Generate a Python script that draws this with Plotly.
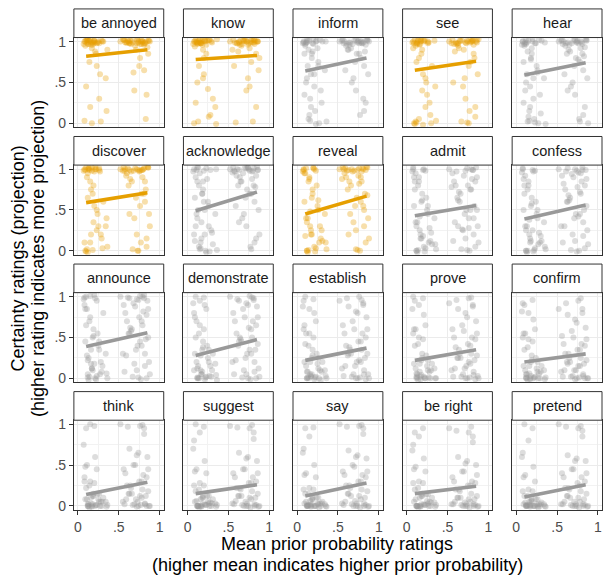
import plotly.graph_objects as go

W, H = 603, 584

PREDICATES = ["be annoyed", "know", "inform", "see", "hear",
              "discover", "acknowledge", "reveal", "admit", "confess",
              "announce", "demonstrate", "establish", "prove", "confirm",
              "think", "suggest", "say", "be right", "pretend"]
FACTIVE = ["be annoyed", "know", "see", "discover", "reveal"]

X_TICKS = [0, 0.5, 1]
X_TICK_LABELS = ["0", ".5", "1"]

# mean prior probability of each rated item (jittered positions): 45 low-prior, then 45 high-prior
X_LOW_ITEMS = [0.08, 0.10, 0.12, 0.14, 0.09, 0.11, 0.13, 0.15, 0.17, 0.19,
               0.21, 0.23, 0.16, 0.18, 0.20, 0.22, 0.25, 0.27, 0.10, 0.12,
               0.14, 0.24, 0.26, 0.29, 0.08, 0.17, 0.19, 0.34, 0.36, 0.31,
               0.07, 0.11, 0.13, 0.15, 0.18, 0.20, 0.23, 0.26, 0.28, 0.09,
               0.12, 0.16, 0.21, 0.35, 0.30]
X_HIGH_ITEMS = [0.52, 0.56, 0.60, 0.63, 0.66, 0.70, 0.73, 0.76, 0.79, 0.82,
                0.85, 0.87, 0.58, 0.62, 0.68, 0.72, 0.75, 0.78, 0.81, 0.84,
                0.86, 0.64, 0.69, 0.74, 0.77, 0.80, 0.83, 0.55, 0.71, 0.88,
                0.61, 0.65, 0.67, 0.72, 0.76, 0.79, 0.82, 0.84, 0.86, 0.59,
                0.74, 0.78, 0.81, 0.57, 0.63]
X_ITEMS = X_LOW_ITEMS + X_HIGH_ITEMS

# certainty ratings (x100, jittered), item order as X_ITEMS
Y_BE_ANNOYED = [100, 102, 97, 101, 95, 99, 97, 103, 92, 100, 88, 98, 99, 96, 101, 85, 100, 60, 45, 102,
                75, 99, 30, 101, 3, 0, 98, 55, 90, 100, 97, 102, 100, 20, 99, 101, 70, 98, 2, 100,
                103, 96, 99, 15, 100,
                100, 102, 99, 98, 101, 95, 103, 97, 100, 99, 93, 101, 99, 100, 62, 98, 70, 102, 96, 100,
                85, 101, 40, 99, 100, 98, 5, 103, 90, 100, 101, 97, 99, 102, 80, 100, 98, 35, 101, 99,
                100, 97, 65, 102, 98]
Y_KNOW = [100, 102, 97, 101, 94, 99, 98, 103, 100, 90, 101, 85, 98, 96, 60, 100, 42, 102, 25, 99,
          70, 101, 8, 100, 0, 98, 55, 20, 103, 30, 97, 100, 2, 99, 101, 80, 96, 102, 10, 100,
          50, 98, 101, -1, 99,
          100, 102, 98, 99, 95, 101, 100, 92, 103, 97, 100, 65, 99, 88, 101, 40, 98, 75, 102, 20,
          100, 96, 101, 55, 99, 2, 100, 90, 103, 80, 98, 101, 97, 100, 45, 99, 102, 85, 100, 1,
          96, 101, 99, 70, 100]
Y_INFORM = [100, 95, 102, 90, 85, 99, 70, 101, 60, 98, 45, 100, 30, 80, 103, 15, 92, 0, 97, 55,
            5, 101, 75, 40, 99, 20, 88, 65, 2, 100, 98, 50, 101, 10, 85, 97, -1, 70, 102, 35,
            99, 3, 60, 100, 25,
            100, 102, 95, 99, 92, 101, 85, 98, 98, 70, 103, 60, 100, 90, 97, 40, 101, 80, 99, 25,
            102, 96, 55, 100, 10, 98, 88, 101, 75, 100, 97, 99, 50, 102, 85, 100, 15, 96, 101, 65,
            99, 100, 30, 98, 90]
Y_SEE = [100, 102, 98, 101, 0, 95, 99, 5, 103, 90, 100, 20, 97, 85, 60, 101, 35, 99, -1, 75,
         102, 50, 98, 10, 92, 100, 40, 101, 3, 70, 99, 2, 97, 80, 101, -2, 55, 100, 25, 98,
         1, 96, 102, 45, 0,
         100, 102, 99, 95, 101, 90, 98, 0, 103, 85, 100, 60, 97, 98, 101, 30, 100, 75, 102, 8,
         99, 92, 45, 101, 15, 100, 80, 98, 55, 103, 97, 101, 2, 99, 70, 100, 96, 20, 102, 88,
         1, 99, 101, 50, 98]
Y_HEAR = [100, 95, 102, 88, 75, 99, 60, 101, 45, 92, 30, 98, 15, 80, 103, 5, 70, 0, 97, 50,
          2, 98, 65, 35, 100, 20, 85, 55, -1, 101, 96, 40, 99, 8, 78, 100, 1, 62, 102, 25,
          97, 3, 55, 99, 12,
          100, 102, 95, 99, 88, 101, 80, 98, 92, 65, 103, 55, 100, 85, 98, 35, 101, 75, 97, 20,
          102, 90, 50, 100, 5, 99, 82, 101, 70, 0, 98, 96, 45, 102, 78, 100, 10, 93, 101, 60,
          99, 2, 85, 97, 40]
Y_DISCOVER = [100, 102, 95, 99, 0, 90, 101, 10, 98, 80, 103, 25, 20, 70, 55, 100, 30, 97, -1, 65,
              101, 45, 99, 15, 10, 102, 35, 30, 5, 60, 98, 2, 100, 85, 1, 97, 50, 101, 20, 99,
              -2, 75, 100, 40, 3,
              100, 102, 95, 99, 85, 101, 0, 98, 90, 60, 103, 45, 100, 80, 98, 20, 97, 70, 101, 5,
              102, 88, 40, 99, 10, 100, 75, 98, 65, 30, 101, 97, 2, 100, 55, 99, 85, 15, 102, 92,
              0, 99, 70, 98, 45]
Y_ACKNOWLEDGE = [100, 90, 102, 80, 65, 99, 50, 95, 35, 85, 20, 101, 10, 70, 98, 0, 60, -1, 30, 40,
                 5, 88, 55, 25, 20, 15, 75, 45, 1, 8, 97, 45, 102, 2, 70, 60, -2, 30, 99, 12,
                 85, 3, 50, 100, 22,
                 100, 102, 92, 99, 85, 101, 75, 98, 88, 60, 103, 50, 97, 80, 95, 30, 100, 70, 101, 15,
                 99, 90, 45, 102, 5, 98, 78, 96, 65, 20, 100, 85, 40, 101, 70, 97, 10, 92, 99, 55,
                 102, 2, 80, 98, 35]
Y_REVEAL = [100, 95, 0, 85, 60, 101, 40, 90, 20, 75, 5, 98, 30, 65, 102, -1, 55, 10, 18, 35,
            1, 80, 50, 15, 99, 25, 70, 45, 2, 12, 97, 40, -2, 88, 20, 101, 3, 62, 30, 95,
            0, 48, 100, 10, 25,
            100, 102, 90, 99, 80, 98, 65, 101, 85, 50, 103, 40, 95, 75, 97, 25, 92, 60, 100, 10,
            102, 85, 35, 99, 0, 101, 70, 88, 55, 15, 98, 45, 100, 2, 82, 97, 30, 99, 68, 101,
            1, 90, 55, 100, 20]
Y_ADMIT = [100, 85, 0, 80, 55, 95, 35, 90, 15, 70, 5, 98, 25, 60, 18, -1, 50, 10, 75, 30,
           1, 65, 45, 12, 102, 20, 62, 40, 2, 8, 97, 35, -2, 85, 15, 99, 3, 55, 28, 90,
           0, 42, 100, 8, 22,
           100, 95, 80, 30, 70, 92, 50, 28, 75, 40, 102, 30, 85, 65, 26, 15, 80, 50, 99, 5,
           90, 72, 25, 101, 0, 88, 55, 78, 45, 10, 97, 60, 2, 98, 40, 100, 20, 85, 50, 35,
           1, 75, 99, 12, 62]
Y_CONFESS = [100, 80, 0, 75, 50, 92, 30, 85, 10, 65, -1, 98, 20, 55, 25, 1, 45, 8, 70, 25,
             0, 60, 40, 10, 101, 15, 58, 35, 2, 12, 96, 30, -2, 80, 12, 99, 3, 50, 22, 88,
             0, 38, 97, 5, 18,
             100, 92, 75, 101, 65, 90, 45, 96, 70, 35, 99, 25, 82, 60, 94, 12, 78, 45, 102, 3,
             88, 68, 20, 98, 0, 85, 50, 30, 40, 8, 97, 62, 1, 100, 42, 95, 18, 80, 55, 30,
             -1, 72, 99, 10, 60]
Y_ANNOUNCE = [90, 100, 5, 70, 45, 85, 25, 101, 12, 60, 0, 95, 18, 50, 18, -1, 40, 5, 65, 22,
              2, 55, 35, 8, 99, 12, 52, 30, 0, 80, 97, 28, -2, 75, 10, 102, 3, 45, 20, 85,
              1, 35, 98, 6, 15,
              100, 90, 70, 98, 60, 88, 40, 101, 65, 30, 95, 20, 80, 55, 92, 10, 75, 40, 102, 0,
              85, 62, 18, 96, -1, 82, 48, 30, 35, 5, 99, 58, 2, 97, 45, 100, 15, 78, 50, 28,
              1, 70, 98, 8, 55]
Y_DEMONSTRATE = [80, 100, 0, 55, 30, 70, 15, 95, 5, 45, -1, 85, 10, 35, 60, 1, 25, 3, 50, 12,
                 0, 40, 20, 2, 10, 5, 38, 18, -2, 30, 92, 20, 0, 65, 8, 99, 2, 35, 15, 75,
                 1, 28, 90, 4, 10,
                 100, 80, 55, 95, 45, 75, 30, 101, 50, 20, 88, 12, 70, 40, 85, 5, 62, 30, 98, 0,
                 75, 50, 10, 90, -1, 70, 35, 20, 25, 2, 97, 48, 1, 92, 35, 99, 8, 65, 42, 22,
                 0, 60, 96, 5, 45]
Y_ESTABLISH = [60, 100, 0, 40, 20, 55, 8, 85, 2, 35, -1, 70, 5, 25, 50, 1, 18, 0, 42, 8,
               0, 30, 12, -2, 95, 3, 28, 10, 0, 20, 88, 15, 1, 55, 5, 97, 2, 25, 10, 65,
               0, 20, 80, 3, 8,
               95, 65, 40, 88, 30, 60, 20, 100, 35, 10, 75, 5, 55, 28, 70, 0, 45, 20, 90, -1,
               60, 38, 5, 80, 1, 55, 25, 12, 15, 0, 98, 35, 2, 82, 22, 96, 5, 50, 30, 15,
               0, 45, 92, 3, 30]
Y_PROVE = [55, 95, 0, 42, 18, 60, 5, 90, -1, 30, 2, 65, 8, 22, 48, 0, 15, 1, 40, 6,
           -2, 28, 10, 0, 100, 2, 25, 12, 0, 18, 85, 12, 1, 50, 4, 98, 0, 22, 8, 60,
           2, 18, 78, 0, 10,
           92, 60, 38, 85, 25, 58, 15, 98, 30, 8, 70, 3, 50, 25, 65, 0, 42, 18, 88, -1,
           55, 35, 5, 75, 1, 50, 22, 10, 12, 0, 96, 30, 2, 80, 20, 99, 4, 48, 28, 12,
           0, 40, 90, 2, 25]
Y_CONFIRM = [50, 90, 0, 38, 15, 55, 5, 80, -1, 28, 0, 60, 6, 20, 45, 1, 12, 0, 35, 5,
             -2, 25, 8, 0, 92, 0, 22, 10, 1, 15, 82, 10, 0, 48, 3, 96, 2, 20, 6, 55,
             1, 15, 72, -1, 8,
             85, 52, 30, 78, 20, 50, 10, 95, 25, 5, 62, 0, 42, 20, 58, -1, 35, 15, 80, 0,
             48, 30, 3, 68, 1, 42, 18, 8, 10, 0, 92, 25, 2, 72, 15, 98, 3, 40, 22, 10,
             0, 35, 85, 2, 18]
Y_THINK = [30, 95, 0, 25, 8, 50, 2, 100, -1, 15, 0, 45, 3, 12, 28, 1, 8, 0, 22, 2,
           -2, 15, 5, 0, 35, 0, 12, 5, 1, 10, 75, 8, 0, 30, 2, 98, 1, 15, 5, 48,
           0, 10, 60, -1, 5,
           100, 45, 25, 70, 15, 50, 5, 98, 20, 2, 60, 0, 40, 15, 50, -1, 30, 10, 95, 0,
           45, 25, 2, 65, 1, 38, 12, 5, 8, 0, 97, 22, 1, 62, 12, 99, 3, 35, 18, 8,
           0, 30, 88, 2, 15]
Y_SUGGEST = [25, 100, 0, 20, 5, 45, 0, 90, -1, 12, 2, 40, 0, 10, 25, 1, 5, 0, 18, 0,
             -2, 12, 3, 0, 80, 0, 10, 3, 1, 8, 70, 6, 0, 28, 2, 97, 1, 12, 4, 42,
             0, 8, 55, -1, 3,
             98, 40, 22, 65, 12, 45, 3, 95, 18, 0, 55, -1, 35, 12, 45, 0, 28, 8, 90, 1,
             40, 22, 0, 60, -2, 35, 10, 3, 5, 0, 96, 20, 1, 58, 10, 99, 2, 30, 15, 6,
             0, 28, 82, 2, 12]
Y_SAY = [20, 95, 0, 15, 3, 40, 0, 85, -1, 10, 0, 35, 1, 8, 20, 0, 3, -2, 15, 0,
         1, 10, 2, 0, 70, 0, 8, 2, -1, 5, 65, 5, 0, 22, 2, 96, 0, 10, 3, 38,
         1, 6, 50, 0, 3,
         100, 42, 25, 68, 12, 48, 3, 98, 20, 0, 58, -1, 38, 15, 50, 0, 30, 8, 95, 1,
         42, 25, 0, 62, -2, 38, 10, 3, 6, 0, 97, 22, 2, 60, 12, 99, 3, 35, 18, 5,
         0, 30, 88, 1, 15]
Y_BE_RIGHT = [28, 90, 0, 22, 5, 48, 0, 85, -1, 15, 2, 42, 0, 12, 28, 1, 6, 0, 20, 0,
              -2, 14, 3, 0, 75, 0, 12, 4, 1, 10, 68, 8, 0, 30, 2, 95, 1, 14, 5, 45,
              0, 10, 58, -1, 4,
              95, 35, 20, 60, 10, 42, 2, 90, 15, 0, 50, -1, 30, 10, 42, 0, 25, 5, 85, 1,
              38, 20, 0, 55, -2, 30, 8, 2, 4, 0, 92, 18, 1, 52, 8, 97, 2, 28, 12, 5,
              0, 25, 78, 2, 10]
Y_PRETEND = [18, 100, 0, 12, 2, 38, 0, 80, -1, 8, 0, 30, 1, 6, 18, 0, 2, -2, 12, 0,
             1, 8, 0, 0, 65, 0, 6, 2, -1, 4, 60, 4, 0, 20, 1, 95, 0, 8, 2, 35,
             1, 5, 48, 0, 2,
             100, 40, 22, 62, 10, 45, 2, 95, 18, 0, 55, -1, 35, 12, 45, 0, 28, 5, 92, 1,
             40, 22, 0, 58, -2, 35, 8, 2, 5, 0, 97, 20, 1, 55, 10, 98, 2, 30, 15, 5,
             0, 25, 85, 2, 12]

RATINGS = [Y_BE_ANNOYED, Y_KNOW, Y_INFORM, Y_SEE, Y_HEAR,
           Y_DISCOVER, Y_ACKNOWLEDGE, Y_REVEAL, Y_ADMIT, Y_CONFESS,
           Y_ANNOUNCE, Y_DEMONSTRATE, Y_ESTABLISH, Y_PROVE, Y_CONFIRM,
           Y_THINK, Y_SUGGEST, Y_SAY, Y_BE_RIGHT, Y_PRETEND]

# linear fit: value at lowest and highest prior mean
LINE_X = [0.10, 0.85]
LINE_AT_LOW = [0.82, 0.78, 0.64, 0.65, 0.59,
               0.59, 0.49, 0.45, 0.43, 0.39,
               0.39, 0.28, 0.22, 0.22, 0.20,
               0.14, 0.15, 0.12, 0.15, 0.11]
LINE_AT_HIGH = [0.90, 0.83, 0.80, 0.76, 0.74,
                0.71, 0.72, 0.67, 0.555, 0.56,
                0.56, 0.475, 0.37, 0.35, 0.30,
                0.29, 0.26, 0.28, 0.24, 0.26]

ORANGE = "#E69F00"
GREY = "#999999"
FONT = "Liberation Sans, Arial, Helvetica, sans-serif"

# layout geometry (pixels)
LEFT0, COL_STEP, PANEL_W = 74, 109.75, 90
TOP0, ROW_STEP, STRIP_H, PANEL_H = 5, 129.33, 29, 91


def px_x(v):
    return v / W


def px_y(v):
    return 1 - v / H


fig = go.Figure()
shapes = []
annotations = []
layout_axes = {}

for i, pred in enumerate(PREDICATES):
    r, c = divmod(i, 5)
    k = i + 1
    xa = "x" if k == 1 else f"x{k}"
    ya = "y" if k == 1 else f"y{k}"
    col = ORANGE if pred in FACTIVE else GREY
    ys = RATINGS[i]
    n = min(len(ys), len(X_ITEMS))

    fig.add_trace(go.Scatter(
        x=X_ITEMS[:n], y=[v / 100 for v in ys[:n]], mode="markers",
        marker=dict(size=6, color=col, opacity=0.33, line=dict(width=0)),
        xaxis=xa, yaxis=ya, hoverinfo="skip", showlegend=False))
    fig.add_trace(go.Scatter(
        x=LINE_X, y=[LINE_AT_LOW[i], LINE_AT_HIGH[i]], mode="lines",
        line=dict(color=col, width=3.6),
        xaxis=xa, yaxis=ya, hoverinfo="skip", showlegend=False))

    left = LEFT0 + c * COL_STEP
    right = min(left + PANEL_W, W)
    top = TOP0 + r * ROW_STEP
    ptop = top + STRIP_H
    pbot = ptop + PANEL_H

    common = dict(
        range=[-0.05, 1.05], tickvals=X_TICKS, ticktext=X_TICK_LABELS,
        showline=True, mirror=True, linecolor="#333333", linewidth=1,
        showgrid=True, gridcolor="#EBEBEB", gridwidth=1.1,
        minor=dict(tickvals=[0.25, 0.75], showgrid=True, gridcolor="#F2F2F2", gridwidth=0.6),
        zeroline=False, ticklen=4, tickwidth=1, tickcolor="#333333",
        tickfont=dict(family=FONT, size=14, color="#4D4D4D"), fixedrange=True)

    layout_axes[f"xaxis{'' if k == 1 else k}"] = dict(
        common, domain=[px_x(left), px_x(right)], anchor=ya,
        showticklabels=(r == 3), ticks="outside" if r == 3 else "")
    layout_axes[f"yaxis{'' if k == 1 else k}"] = dict(
        common, domain=[px_y(pbot), px_y(ptop)], anchor=xa,
        showticklabels=(c == 0), ticks="outside" if c == 0 else "")

    shapes.append(dict(type="rect", xref="paper", yref="paper",
                       x0=px_x(left), x1=px_x(right), y0=px_y(ptop), y1=px_y(top),
                       fillcolor="white", line=dict(color="#333333", width=1)))
    annotations.append(dict(text=pred, xref="paper", yref="paper",
                            x=px_x((left + right) / 2), y=px_y(top + STRIP_H / 2),
                            xanchor="center", yanchor="middle", showarrow=False,
                            font=dict(family=FONT, size=14.5, color="#1A1A1A")))

title_font = dict(family=FONT, size=18, color="black")
annotations += [
    dict(text="Mean prior probability ratings", xref="paper", yref="paper",
         x=px_x(338), y=px_y(548), xanchor="center", yanchor="middle",
         showarrow=False, font=title_font),
    dict(text="(higher mean indicates higher prior probability)", xref="paper", yref="paper",
         x=px_x(338), y=px_y(569), xanchor="center", yanchor="middle",
         showarrow=False, font=title_font),
    dict(text="Certainty ratings (projection)", xref="paper", yref="paper",
         x=px_x(18), y=px_y(258), xanchor="center", yanchor="middle", textangle=-90,
         showarrow=False, font=title_font),
    dict(text="(higher rating indicates more projection)", xref="paper", yref="paper",
         x=px_x(38.5), y=px_y(258), xanchor="center", yanchor="middle", textangle=-90,
         showarrow=False, font=title_font),
]

fig.update_layout(
    width=W, height=H, margin=dict(l=0, r=0, t=0, b=0),
    paper_bgcolor="white", plot_bgcolor="white",
    shapes=shapes, annotations=annotations, showlegend=False,
    font=dict(family=FONT), **layout_axes)

fig.write_html("out.html", config={"displayModeBar": False},
               post_script="document.body.style.margin='0';document.body.style.overflow='hidden';")
